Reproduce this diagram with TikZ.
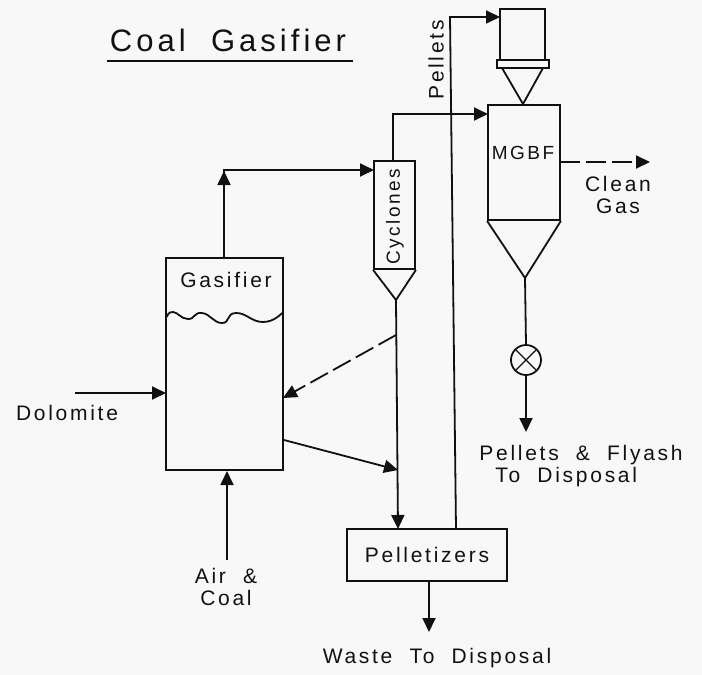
\documentclass[tikz,border=0pt]{standalone}
\usepackage{fontspec}
\setmainfont[LetterSpace=13,WordSpace=2]{Liberation Sans}
\usetikzlibrary{arrows.meta}
\definecolor{paper}{HTML}{F8F8F8}
\definecolor{ink}{HTML}{111111}
\tikzset{
  unit/.style={draw=ink,line width=1.8pt,inner sep=0pt,minimum width=#1},
  flow/.style={draw=ink,line width=1.8pt,-{Triangle[length=14pt,width=13pt]}},
  line/.style={draw=ink,line width=1.8pt},
  lab/.style={text=ink,font=\fontsize{21}{22}\selectfont,inner sep=0pt,align=center}
}
\begin{document}
\begin{tikzpicture}
  [x=1pt,y=-1pt]
  \fill[paper] (0,0) rectangle (702,675);
  \useasboundingbox (0,0) rectangle (702,675);

  \node (gasifier) [unit=117pt,minimum height=212pt] at (224.5,364) {};
  \node (cyclones) [unit=41pt,minimum height=108pt] at (394.5,215) {};
  \node (mgbf)     [unit=72pt,minimum height=115pt] at (524,162.5) {};
  \node (hopper)   [unit=45pt,minimum height=51pt] at (522.5,34.5) {};
  \node (flange)   [unit=52pt,minimum height=8pt] at (523,64) {};
  \node (pelletizers) [unit=160pt,minimum height=52pt,lab] at (427,555) {Pelletizers};
  \node (valve)    [draw=ink,line width=1.8pt,circle,minimum size=30pt,inner sep=0pt] at (526,360) {};

  \coordinate (cyctip) at (396,300);
  \coordinate (hoptip) at (523,104);
  \coordinate (mgbftip) at (525,278);
  \coordinate (gasout) at (224,170);
  \coordinate (cycin) at (374,170);
  \coordinate (cycout) at (393,114);
  \coordinate (mgbfin) at (488,114);
  \coordinate (pelup) at (450,17);
  \coordinate (hopin) at (500,17);
  \coordinate (pelfoot) at (456,529);
  \coordinate (dolo) at (75,393);
  \coordinate (doloin) at (166,393);
  \coordinate (air) at (227,560);
  \coordinate (airin) at (227,471);
  \coordinate (recycle) at (396,335);
  \coordinate (recyclein) at (283,398);
  \coordinate (bleed) at (284,440);
  \coordinate (bleedin) at (398,470);
  \coordinate (wastefoot) at (429,581);
  \coordinate (waste) at (429,632);
  \coordinate (ashout) at (526,432);
  \coordinate (gasend) at (650,162);
  \coordinate (mgbfgas) at (560,162);
  \coordinate (pelin) at (398,529);

  \path[line] (cyclones.south west) -- (cyctip) -- (cyclones.south east);
  \path[line] (mgbf.south west) -- (mgbftip) -- (mgbf.south east);
  \path[line] (502,68) -- (hoptip) -- (543,68);
  \draw[line,line width=1.4pt] (valve.45) -- (valve.225) (valve.135) -- (valve.315);
  \draw[line] plot[smooth,tension=.9] coordinates
    {(167,317) (173,312) (188,319) (202,313) (222,323) (236,313) (263,322) (282,313)};

  \foreach \from/\to in
  {dolo/doloin, air/airin, bleed/bleedin, wastefoot/waste, cyctip/pelin, valve.south/ashout}
    \path[flow] (\from) -- (\to);
  \path[flow] (gasifier.north -| gasout) -- (gasout) -- (cycin);
  \path[flow] (gasifier.north -| gasout) -- (224,171);
  \path[flow] (cyclones.north -| cycout) -- (cycout) -- (mgbfin);
  \path[flow] (pelfoot) -- (pelup) -- (hopin);
  \path[line] (mgbftip) -- (valve.north);
  \path[flow,dash pattern=on 20pt off 6pt] (recycle) -- (recyclein);
  \path[flow,dash pattern=on 20pt off 6pt] (mgbfgas) -- (gasend);

  \node (title) [lab,font=\fontsize{31}{34}\selectfont] at (228,40) {Coal Gasifier};
  \draw[line] (107,61) -- (353,61);
  \node (gaslab) [lab] at (226,280) {Gasifier};
  \node (mgbflab) [lab,font=\fontsize{19}{20}\selectfont] at (523,153) {MGBF};
  \node (cyclab) [lab,rotate=90,font=\fontsize{19}{20}\selectfont] at (395,217) {Cyclones};
  \node (pellab) [lab,rotate=90] at (436,60) {Pellets};
  \node (cleanlab) [lab] at (618,195) {Clean\\Gas};
  \node (dololab) [lab] at (67,413) {Dolomite};
  \node (airlab) [lab] at (226,587) {Air \&\\Coal};
  \node (wastelab) [lab] at (437,658) {Waste To Disposal};
  \node (ashlab) [lab,align=left] at (581,466) {Pellets \& Flyash\\\hspace*{16pt}To Disposal};
\end{tikzpicture}
\end{document}
